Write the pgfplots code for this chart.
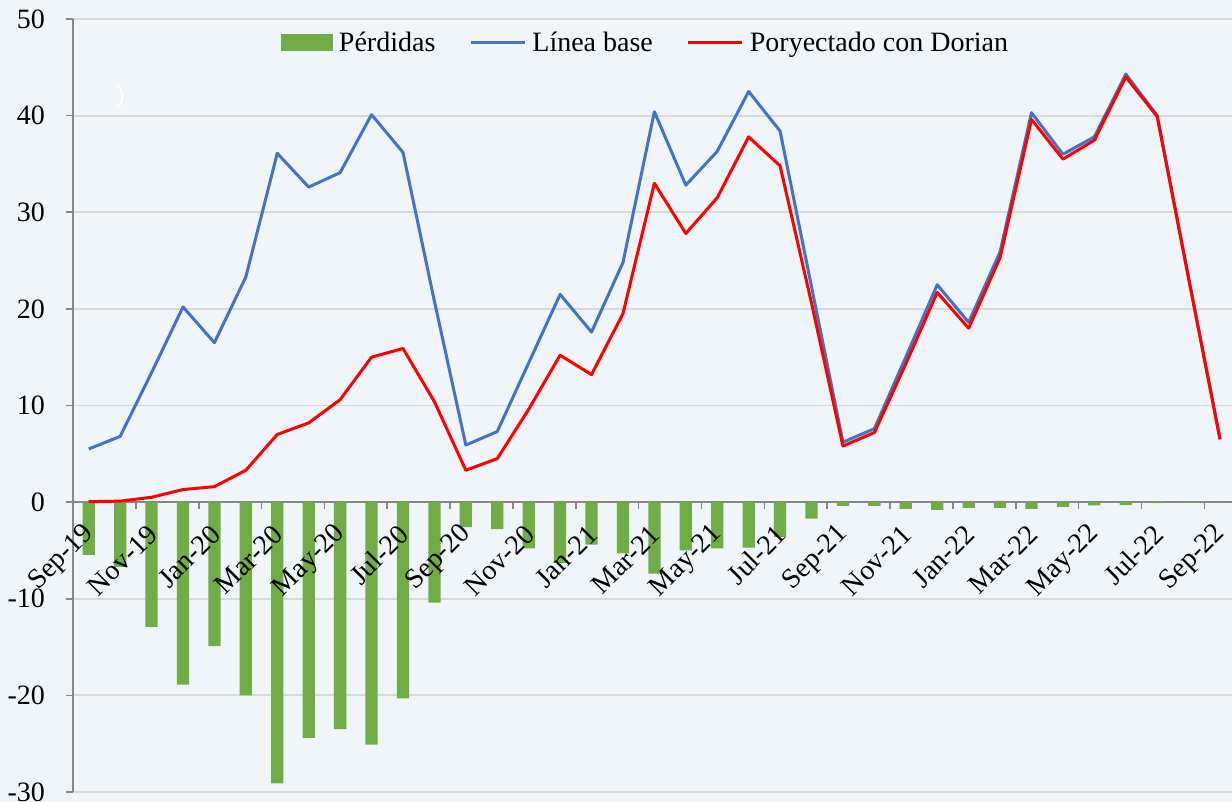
\documentclass[border=0pt]{standalone}
\usepackage{fontspec}
\setmainfont{Liberation Serif}
\usepackage{pgfplots}
\usepackage{pgfplotstable}
\pgfplotsset{compat=1.18}

\definecolor{bgc}{RGB}{240,245,250}
\definecolor{gridc}{RGB}{217,217,217}
\definecolor{axc}{RGB}{134,134,134}
\definecolor{lossc}{RGB}{112,173,71}
\definecolor{basec}{RGB}{68,114,196}
\definecolor{dorc}{RGB}{255,0,0}

\pgfplotsset{
  frame/.style={
    at={(0pt,0pt)}, anchor=south west,
    scale only axis, width=579.5pt, height=386.5pt,
    xmin=-0.5, xmax=36.38, ymin=-30, ymax=50,
    tick label style={font=\fontsize{14}{16}\selectfont},
    /pgf/number format/assume math mode=true,
  },
  barlegend/.style={legend image code/.code={\fill[lossc] (0pt,-4.25pt) rectangle (26pt,4.25pt);}},
  linelegend/.style={legend image code/.code={\draw[##1] (0pt,0pt) -- (27pt,0pt);}},
}

% month index (0 = Sep-19), base line, projected with Dorian, losses
\pgfplotstableread{
idx base dorian loss
0  5.5  0.05 -5.45
1  6.8  0.1  -6.7
2  13.4 0.5  -12.9
3  20.2 1.3  -18.9
4  16.5 1.6  -14.9
5  23.3 3.3  -20.0
6  36.1 7.0  -29.1
7  32.6 8.2  -24.4
8  34.1 10.6 -23.5
9  40.1 15.0 -25.1
10 36.2 15.9 -20.3
11 20.8 10.4 -10.4
12 5.9  3.3  -2.6
13 7.3  4.5  -2.8
14 14.4 9.6  -4.8
15 21.5 15.2 -6.3
16 17.6 13.2 -4.4
17 24.8 19.5 -5.3
18 40.4 33.0 -7.4
19 32.8 27.8 -5.0
20 36.3 31.5 -4.8
21 42.5 37.8 -4.7
22 38.4 34.8 -3.6
23 22.3 20.6 -1.7
24 6.2  5.8  -0.4
25 7.6  7.2  -0.4
26 15.0 14.3 -0.7
27 22.5 21.7 -0.8
28 18.6 18.0 -0.6
29 25.9 25.3 -0.6
30 40.3 39.6 -0.7
31 36.0 35.5 -0.5
32 37.8 37.45 -0.35
33 44.3 44.0 -0.3
34 40.0 39.9 -0.1
35 23.2 23.15 -0.05
36 6.5  6.5  0
}\datatable

\begin{document}
\begin{tikzpicture}
\fill[bgc] (-36.5pt,-5pt) rectangle (579.5pt,396pt);
\useasboundingbox (-36.5pt,-5pt) rectangle (579.5pt,396pt);
% main axis: grid, bars, lines, legend
\begin{axis}[
  frame,
  axis x line=middle, axis y line=left,
  axis line style={-, draw=axc, line width=0.8pt},
  ytick={-30,-20,...,50},
  ymajorgrids, major grid style={draw=gridc, line width=0.9pt},
  xtick={-0.5,1.5,...,35.5}, xticklabels={},
  tick align=outside, major tick length=3.5pt,
  tick style={draw=axc, line width=0.8pt},
  yticklabel style={xshift=-7pt},
  legend columns=3,
  legend style={at={(0.4931,0.969)}, anchor=center, draw=none, fill=none,
    font=\fontsize{14}{16}\selectfont,
    nodes={inner sep=0pt},
    /tikz/every odd column/.append style={column sep=3pt},
    /tikz/every even column/.append style={column sep=17pt}},
]
\addplot[ybar, bar width=0.39, bar shift=0pt, fill=lossc, draw=none, barlegend]
  table[x=idx, y=loss] {\datatable};
\addlegendentry{Pérdidas}
\addplot[basec, line width=1.5pt, line join=round, linelegend]
  table[x=idx, y=base] {\datatable};
\addlegendentry{Línea base}
\addplot[dorc, line width=1.5pt, line join=round, linelegend]
  table[x=idx, y=dorian] {\datatable};
\addlegendentry{Poryectado con Dorian}
\node[white, font=\fontsize{14}{16}\selectfont] at (rel axis cs:0.0406,0.899) {)};
\end{axis}
% overlay axis: month labels drawn above the bars
\begin{axis}[
  frame,
  axis x line=middle, axis y line=none,
  axis line style={draw=none},
  ytick=\empty,
  xtick={0,2,...,36},
  xticklabels={Sep-19,Nov-19,Jan-20,Mar-20,May-20,Jul-20,Sep-20,Nov-20,Jan-21,Mar-21,May-21,Jul-21,Sep-21,Nov-21,Jan-22,Mar-22,May-22,Jul-22,Sep-22},
  tick style={draw=none},
  tick align=outside, major tick length=3.5pt,
  xticklabel style={anchor=east, xshift=3pt, yshift=-8pt, rotate=45},
]
\end{axis}
\end{tikzpicture}
\end{document}
